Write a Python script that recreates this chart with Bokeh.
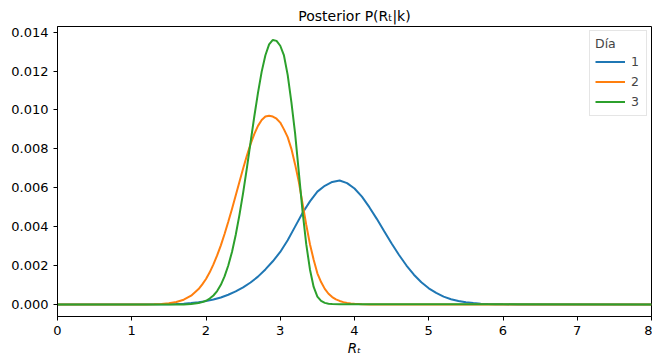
from bokeh.plotting import figure
from bokeh.models import Range1d, FixedTicker, NumeralTickFormatter, Legend, LegendItem
from bokeh.embed import file_html
from bokeh.resources import INLINE

# Día 1 posterior (R_t, density)
dia_1_x = [0.0, 1.5, 1.6, 1.7, 1.8, 1.9,
           2.0, 2.1, 2.2, 2.3, 2.4, 2.5, 2.6, 2.7, 2.8, 2.9,
           3.0, 3.1, 3.2, 3.3, 3.4, 3.5, 3.6, 3.7, 3.8, 3.9,
           4.0, 4.1, 4.2, 4.3, 4.4, 4.5, 4.6, 4.7, 4.8, 4.9,
           5.0, 5.1, 5.2, 5.3, 5.4, 5.5, 5.6, 5.7, 5.8, 5.9,
           6.0, 6.2, 8.0]
dia_1_y = [0.0, 0.00001, 0.00002, 0.00004, 0.00007, 0.00011,
           0.00017, 0.00025, 0.00036, 0.0005, 0.00067, 0.00088, 0.00113, 0.00143, 0.0018, 0.00222,
           0.0027, 0.0033, 0.0040, 0.0047, 0.0053, 0.0058, 0.0061, 0.0063, 0.00637, 0.00624,
           0.00596, 0.00554, 0.0050, 0.0044, 0.00376, 0.00313, 0.00254, 0.0020, 0.00153, 0.00114,
           0.00083, 0.00059, 0.0004, 0.00027, 0.000175, 0.00011, 0.000068, 0.00004, 0.000023, 0.000012,
           0.000006, 0.0, 0.0]

# Día 2 posterior
dia_2_x = [0.0, 1.2, 1.3, 1.4, 1.5, 1.6, 1.7, 1.8,
           1.9, 1.95,
           2.0, 2.05, 2.1, 2.15, 2.2, 2.25, 2.3, 2.35, 2.4, 2.45,
           2.5, 2.55, 2.6, 2.65, 2.7, 2.75, 2.8, 2.85, 2.9, 2.95,
           3.0, 3.05, 3.1, 3.15, 3.2, 3.25, 3.3, 3.35, 3.4, 3.45,
           3.5, 3.55, 3.6, 3.65, 3.7, 3.75, 3.8, 3.85, 3.9, 3.95,
           4.0, 4.1, 4.2, 8.0]
dia_2_y = [0.0, 0.0, 0.000012, 0.000027, 0.00006, 0.000124, 0.000244, 0.00045,
           0.00079, 0.00103,
           0.00131, 0.00165, 0.00206, 0.00252, 0.00304, 0.00362, 0.00425, 0.00491, 0.0056, 0.0063,
           0.00699, 0.00764, 0.00824, 0.00876, 0.00918, 0.00948, 0.00966, 0.0097, 0.00966, 0.00955,
           0.00935, 0.0090, 0.0086, 0.0080, 0.0072, 0.0063, 0.0052, 0.0041, 0.0031, 0.0023,
           0.0016, 0.00115, 0.0008, 0.00055, 0.00038, 0.00026, 0.00018, 0.00012, 0.00008, 0.00005,
           0.00003, 0.00001, 0.0, 0.0]

# Día 3 posterior
dia_3_x = [0.0, 1.7, 1.8,
           1.9, 1.95,
           2.0, 2.05, 2.1, 2.15, 2.2, 2.25, 2.3, 2.35, 2.4, 2.45,
           2.5, 2.55, 2.6, 2.65, 2.7, 2.75, 2.8, 2.85, 2.9, 2.95,
           3.0, 3.05, 3.1, 3.15, 3.2, 3.25, 3.3, 3.35, 3.4, 3.45,
           3.5, 3.55, 3.6, 3.65, 3.7,
           3.8, 8.0]
dia_3_y = [0.0, 0.0, 0.00002,
           0.00007, 0.00012,
           0.00019, 0.0003, 0.00046, 0.00069, 0.00101, 0.00144, 0.0020, 0.0027, 0.00357, 0.00459,
           0.00574, 0.0070, 0.00833, 0.00965, 0.01088, 0.01197, 0.01281, 0.01337, 0.0136, 0.01355,
           0.0133, 0.0128, 0.0118, 0.0104, 0.0088, 0.0068, 0.0048, 0.0031, 0.0018, 0.0009,
           0.0004, 0.00018, 0.00008, 0.00004, 0.00002,
           0.00001, 0.0]

series_labels = ["1", "2", "3"]
series_colors = ["#1f77b4", "#ff7f0e", "#2ca02c"]
x_ticks = [0, 1, 2, 3, 4, 5, 6, 7, 8]
y_ticks = [0.0, 0.002, 0.004, 0.006, 0.008, 0.010, 0.012, 0.014]

FONT = "DejaVu Sans"

p = figure(width=652, height=362, output_backend="svg", toolbar_location=None,
           title="Posterior P(Rₜ|k)",
           x_range=Range1d(0, 8), y_range=Range1d(-0.00062, 0.01429),
           min_border_left=57, min_border_right=1, min_border_top=26, min_border_bottom=46)

p.title.align = "center"
p.title.text_font = FONT
p.title.text_font_size = "14px"
p.title.text_font_style = "normal"
p.title.text_color = "black"
p.title.standoff = 5

p.xgrid.visible = False
p.ygrid.visible = False
p.outline_line_color = "black"
p.outline_line_width = 1
p.background_fill_color = "white"
p.border_fill_color = "white"

for ax in (p.xaxis, p.yaxis):
    ax.axis_line_color = "black"
    ax.major_tick_line_color = "black"
    ax.major_tick_in = 0
    ax.major_tick_out = 4
    ax.minor_tick_in = 0
    ax.minor_tick_out = 0
    ax.major_label_text_font = FONT
    ax.major_label_text_font_size = "13px"
    ax.major_label_text_color = "black"
    ax.major_label_standoff = 5

p.xaxis.ticker = FixedTicker(ticks=x_ticks)
p.yaxis.ticker = FixedTicker(ticks=y_ticks)
p.yaxis.formatter = NumeralTickFormatter(format="0.000")

p.xaxis.axis_label = "Rₜ"
p.xaxis.axis_label_text_font = FONT
p.xaxis.axis_label_text_font_style = "italic"
p.xaxis.axis_label_text_font_size = "13.5px"
p.xaxis.axis_label_text_color = "black"
p.xaxis.axis_label_standoff = 2

renderers = []
for xs, ys, c in zip([dia_1_x, dia_2_x, dia_3_x], [dia_1_y, dia_2_y, dia_3_y], series_colors):
    r = p.line(xs, ys, line_color=c, line_width=2)
    renderers.append(r)

legend = Legend(items=[LegendItem(label=l, renderers=[r]) for l, r in zip(series_labels, renderers)],
                title="Día", location="top_right")
legend.title_text_font = FONT
legend.title_text_font_size = "12.5px"
legend.title_text_font_style = "normal"
legend.title_standoff = 2
legend.label_text_font = FONT
legend.label_text_font_size = "12.5px"
legend.glyph_width = 30
legend.glyph_height = 17
legend.label_height = 17
legend.label_width = 10
legend.label_standoff = 6
legend.spacing = 3
legend.padding = 5
legend.margin = 4
legend.border_line_color = "#cccccc"
legend.background_fill_alpha = 0.8
p.add_layout(legend)

open("out.html", "w").write(file_html(p, INLINE))
